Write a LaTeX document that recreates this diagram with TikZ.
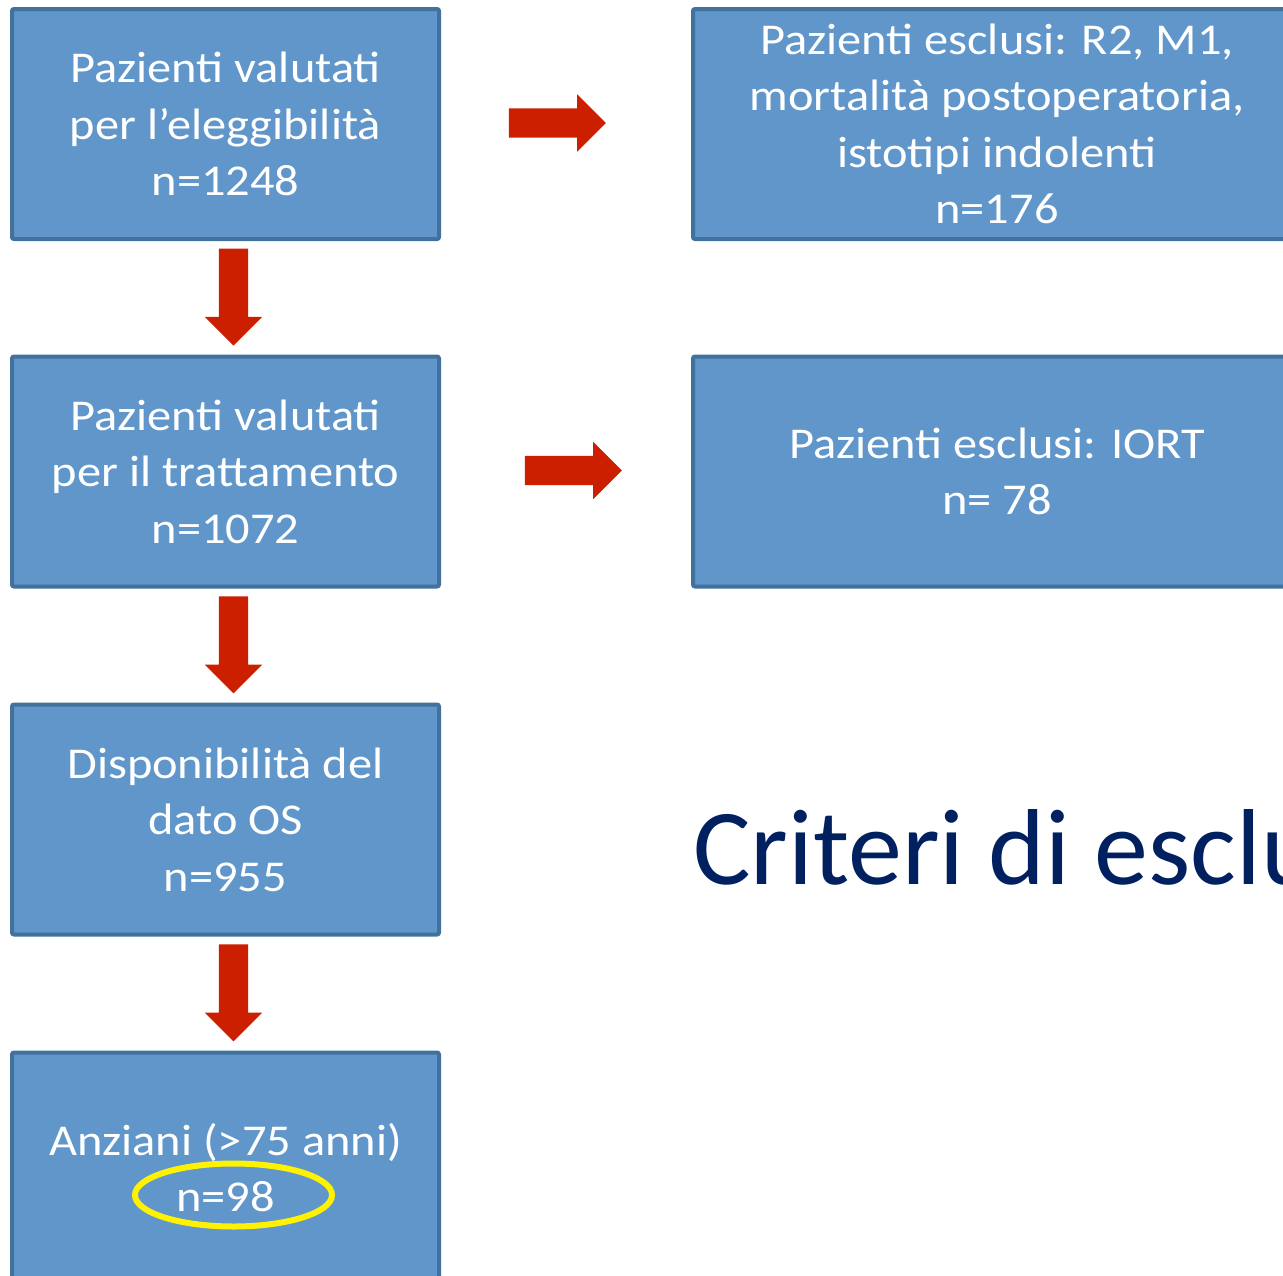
\documentclass[tikz,border=0pt]{standalone}
\usepackage{fontspec}
\setmainfont{Carlito}[FakeStretch=1.1]
\newfontfamily\titlefont{Carlito}
\usetikzlibrary{shapes.arrows,calc}
\definecolor{boxfill}{HTML}{6096C9}
\definecolor{boxline}{HTML}{41719C}
\definecolor{arrowred}{HTML}{CC1F00}
\definecolor{titleblue}{HTML}{002060}

\begin{document}
\begin{tikzpicture}[x=1pt,y=-1pt,
    flowbox/.style={draw=boxline,line width=4pt,fill=boxfill,rounded corners=2pt,
      minimum height=230pt,inner sep=0pt,text=white,align=center,
      font=\fontsize{44}{56.5}\selectfont},
    leftbox/.style={flowbox,minimum width=427pt},
    rightbox/.style={flowbox,minimum width=608pt},
    blockarrow/.style={single arrow,fill=arrowred,draw=none,inner sep=14.5pt,
      minimum height=97pt,single arrow head extend=14pt},
    ring/.style={draw=yellow,line width=6pt},
    titletext/.style={text=titleblue,inner sep=0pt,font=\titlefont\fontsize{108}{130}\selectfont}]
            \useasboundingbox (0,0) rectangle (1283,1275);
            % left column
            \node[leftbox] (elig) at (225.5,124) {Pazienti valutati\\per l’eleggibilità\\n=1248};
            \node[leftbox] (tratt) at (225.5,471.5) {Pazienti valutati\\per il trattamento\\n=1072};
            \node[leftbox] (dato) at (225.5,819.5) {Disponibilità del\\dato OS\\n=955};
            \node[leftbox] (anz) at (225.5,1167.5) {Anziani (>75 anni)\\n=98};
            % excluded
            \node[rightbox] (escl1) at (997,124) {Pazienti esclusi: R2, M1,\\mortalità postoperatoria,\\istotipi indolenti\\n=176};
            \node[rightbox] (escl2) at (997,471.5) {Pazienti esclusi: IORT\\n= 78};
            % arrows
            \node[blockarrow,shape border rotate=270] (giu1) at ($(elig.south)!0.5!(tratt.north)+(8,-8)$) {};
            \node[blockarrow,shape border rotate=270] (giu2) at ($(tratt.south)!0.5!(dato.north)+(8,-8)$) {};
            \node[blockarrow,shape border rotate=270] (giu3) at ($(dato.south)!0.5!(anz.north)+(8,-8)$) {};
            \node[blockarrow] (dx1) at ($(elig.east)+(109,-1)$) {};
            \node[blockarrow] (dx2) at ($(tratt.east)+(125,-1)$) {};
            \draw[ring] ($(anz.center)+(8,27.5)$) ellipse [x radius=98.5pt,y radius=31.5pt];
            \node[titletext,anchor=base west] (titolo) at (693,884) {Criteri di esclu};
\end{tikzpicture}
\end{document}
